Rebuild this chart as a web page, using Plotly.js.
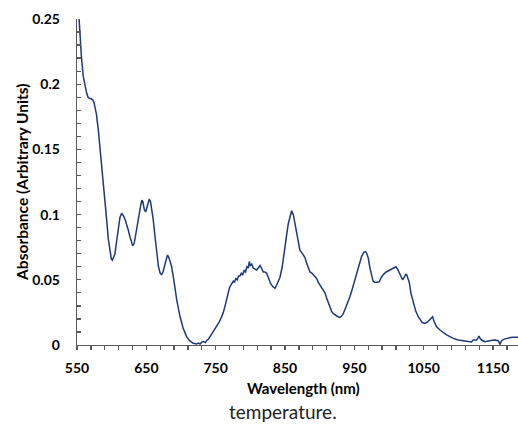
<!DOCTYPE html>
<html>
<head>
<meta charset="utf-8">
<script src="https://cdn.plot.ly/plotly-3.0.1.min.js"></script>
<style>html,body{margin:0;padding:0;background:#fff;}#chart{width:518px;height:429px;}</style>
</head>
<body>
<div id="chart"></div>
<script>
const wavelength = [550,551.5,553,554.3,556.5,559,561.5,564,566,568,570,572.6,574.5,576,578,580.7,583.5,586.5,589.5,592.8,595,597.6,599.5,601,603,604.8,607,609.6,612,614.4,617,619.5,621.5,624,626.4,628.5,630.3,632.5,634,636,639,641.5,643.5,645,647,649,651,653,654.3,656,658,660,662.5,665,667.5,670,672,674,676,678.5,680.5,682.5,684.5,686.5,689,691.3,694,698.5,703,708,712,717.7,720,722.6,725,727.5,730,732,735,737,739.5,741.8,745,748,751.4,755,758,761,764,766,768,770,772,774,775.5,777,779,781,783,785,787,789,791,793,795,797,798.5,800,802,804,806.5,809,811.5,813.9,816,818.7,821,823.5,826.5,829.3,832,835.5,838,840.5,842.7,846,849.9,852.5,854.7,857,859.6,862,864.4,867,869.5,871.5,874,876.5,878.8,881,883.5,886,889,892,895.6,898,900.4,903,905.2,907.6,910,912.4,914.8,917,919.6,922,924.5,927,929.2,931.5,934,936.4,940,943.6,947,950,953.3,957,960.5,963.5,966.3,968,970.1,972.5,974.9,977,979.7,982.5,985.9,989,991.7,996,1001.3,1006,1010,1012.5,1014.8,1017,1019.6,1022,1024,1025.4,1027,1029.2,1031.5,1035,1038.5,1042.2,1045,1048,1051.8,1055,1058,1061,1062.9,1065,1068.7,1073.4,1078.2,1083,1087.9,1092.7,1099.9,1106,1112,1116.7,1119,1121.5,1126.4,1128,1129.7,1131.5,1133.5,1138.3,1142,1145.5,1149,1152.7,1157.5,1159,1160,1161,1162.4,1166,1169.6,1175,1179.2,1187.8];
const absorbance = [0.262,0.258,0.250,0.236,0.220,0.206,0.198,0.193,0.190,0.189,0.189,0.188,0.186,0.183,0.177,0.165,0.150,0.133,0.114,0.096,0.082,0.070,0.066,0.065,0.067,0.070,0.079,0.091,0.098,0.101,0.099,0.096,0.093,0.088,0.083,0.078,0.076,0.078,0.082,0.088,0.098,0.106,0.111,0.110,0.104,0.102,0.106,0.111,0.112,0.110,0.104,0.096,0.083,0.070,0.060,0.055,0.054,0.056,0.060,0.066,0.069,0.067,0.064,0.060,0.052,0.042,0.034,0.022,0.013,0.0064,0.0035,0.0013,0.0010,0.0008,0.0015,0.0008,0.0022,0.0026,0.0018,0.0035,0.0045,0.0064,0.0085,0.011,0.014,0.0175,0.021,0.025,0.031,0.036,0.041,0.044,0.046,0.0475,0.049,0.048,0.051,0.050,0.053,0.053,0.055,0.054,0.057,0.056,0.060,0.059,0.064,0.061,0.062,0.059,0.058,0.0575,0.059,0.061,0.059,0.056,0.056,0.055,0.051,0.047,0.045,0.0435,0.046,0.049,0.052,0.060,0.073,0.085,0.093,0.099,0.103,0.100,0.093,0.085,0.077,0.0725,0.071,0.069,0.067,0.063,0.059,0.056,0.055,0.053,0.051,0.048,0.046,0.044,0.042,0.040,0.036,0.032,0.029,0.026,0.024,0.023,0.022,0.0215,0.0212,0.022,0.024,0.027,0.032,0.037,0.043,0.049,0.055,0.062,0.068,0.071,0.0716,0.070,0.0665,0.059,0.052,0.049,0.048,0.048,0.0485,0.052,0.054,0.056,0.0575,0.059,0.060,0.058,0.055,0.052,0.050,0.052,0.054,0.054,0.052,0.048,0.040,0.032,0.026,0.0217,0.019,0.0172,0.0166,0.0175,0.019,0.021,0.0217,0.018,0.014,0.0115,0.0095,0.0077,0.0064,0.0051,0.0038,0.0032,0.0028,0.0025,0.0024,0.0038,0.0038,0.005,0.0069,0.005,0.0038,0.0025,0.0030,0.0033,0.0036,0.0038,0.0033,0.0018,0.0005,0.0018,0.0033,0.0045,0.0051,0.0057,0.0059,0.0059];
const xTickVals = [550,650,750,850,950,1050,1150];
const xTickText = ['550','650','750','850','950','1050','1150'];
const yTickVals = [0,0.05,0.1,0.15,0.2,0.25];
const yTickText = ['0','0.05','0.1','0.15','0.2','0.25'];
const xTitle = 'Wavelength (nm)';
const yTitle = 'Absorbance (Arbitrary Units)';
const caption = 'temperature.';

const font = 'Lato, "Open Sans", sans-serif';
const trace = {
  x: wavelength, y: absorbance, type: 'scatter', mode: 'lines',
  line: {color: '#1f3a78', width: 1.5}, hoverinfo: 'skip'
};
const layout = {
  width: 518, height: 429,
  margin: {l: 77, r: 0, t: 19, b: 84},
  paper_bgcolor: '#fff', plot_bgcolor: '#fff',
  showlegend: false,
  font: {family: font, color: '#000'},
  xaxis: {
    range: [550, 1186], showgrid: false, zeroline: false,
    showline: true, linecolor: '#595959', linewidth: 1.3,
    tickmode: 'array', tickvals: xTickVals, ticktext: xTickText,
    ticks: 'outside', ticklen: 4, tickcolor: '#595959', tickwidth: 1.3,
    ticklabelstandoff: 6,
    tickfont: {family: font, size: 14, color: '#000', weight: 'bold'},
    minor: {dtick: 20, tick0: 550, ticks: 'outside', ticklen: 4, tickcolor: '#595959', tickwidth: 1.3}
  },
  yaxis: {
    range: [0, 0.25], showgrid: false, zeroline: false,
    showline: true, linecolor: '#595959', linewidth: 1.3,
    tickmode: 'array', tickvals: yTickVals, ticktext: yTickText,
    ticks: 'inside', ticklen: 4, tickcolor: '#595959', tickwidth: 1.3,
    ticklabelstandoff: 13,
    tickfont: {family: font, size: 14, color: '#000', weight: 'bold'},
    minor: {dtick: 0.01, tick0: 0, ticks: 'inside', ticklen: 4, tickcolor: '#595959', tickwidth: 1.3}
  },
  annotations: [
    {text: xTitle, xref: 'paper', yref: 'paper', x: 0.5125, y: -0.132, xanchor: 'center', yanchor: 'middle', showarrow: false,
     font: {family: font, size: 15, color: '#000', weight: 'bold'}},
    {text: yTitle, xref: 'paper', yref: 'paper', x: -0.125, y: 0.5, xanchor: 'center', yanchor: 'middle', textangle: -90, showarrow: false,
     font: {family: font, size: 15.5, color: '#000', weight: 'bold'}},
    {text: caption, xref: 'paper', yref: 'paper', x: (283-77)/441, y: -0.205, xanchor: 'center', yanchor: 'middle', showarrow: false,
     font: {family: font, size: 19, color: '#222'}}
  ]
};
Plotly.newPlot('chart', [trace], layout, {displayModeBar: false, staticPlot: true});
</script>
</body>
</html>
